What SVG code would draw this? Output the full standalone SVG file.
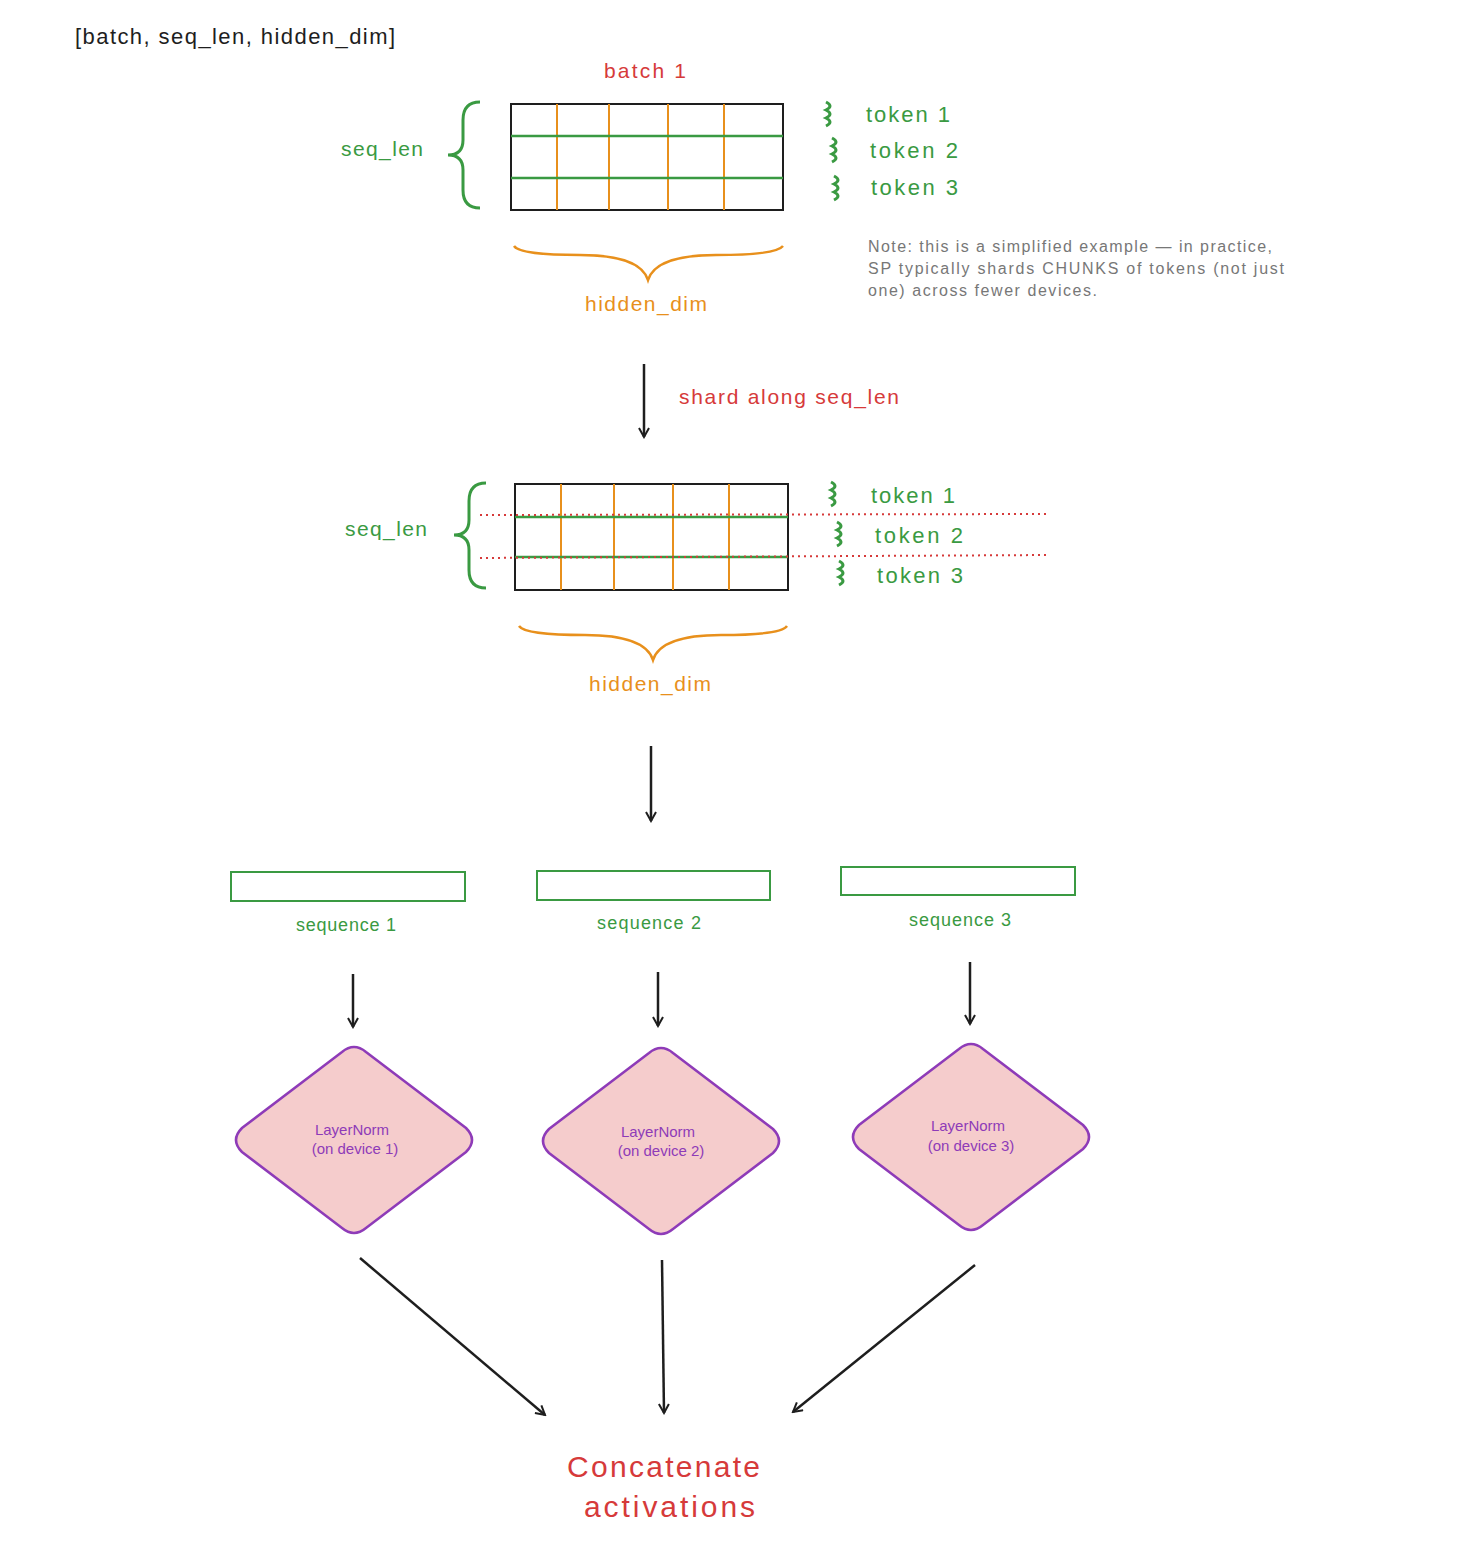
<svg xmlns="http://www.w3.org/2000/svg" width="1462" height="1550" viewBox="0 0 1462 1550">
<style>
text{font-family:"Liberation Sans",sans-serif}
.g{fill:#3a9a42}.o{fill:#e8901c}.r{fill:#d63a3a}.k{fill:#1e1e1e}
.gs{stroke:#3a9a42;fill:none;stroke-width:3}
.os{stroke:#e8901c;fill:none;stroke-width:2.5}
.gl{stroke:#3a9a42;stroke-width:2.5}
.ol{stroke:#e8901c;stroke-width:2}
.ar{stroke:#1e1e1e;stroke-width:2.5;fill:none;marker-end:url(#a)}
.seq{fill:none;stroke:#3a9a42;stroke-width:2}
.dia{fill:#f5cccc;stroke:#8e3bb8;stroke-width:2.5}
.dt{fill:#8e3bb8;font-size:15px;text-anchor:middle}
</style>
<defs><marker id="a" viewBox="0 0 12 12" refX="10" refY="6" markerWidth="12" markerHeight="12" markerUnits="userSpaceOnUse" orient="auto"><path d="M1,1 L10,6 L1,11" fill="none" stroke="#1e1e1e" stroke-width="2"/></marker></defs>
<text x="75" y="44" class="k" font-size="22" textLength="320">[batch, seq_len, hidden_dim]</text>
<g id="grid1">
<text x="604" y="78" class="r" font-size="21" textLength="82">batch 1</text>
<rect x="511" y="104" width="272" height="106" fill="none" stroke="#1e1e1e" stroke-width="2"/>
<line x1="557" y1="104" x2="557" y2="210" class="ol"/><line x1="609" y1="104" x2="609" y2="210" class="ol"/><line x1="668" y1="104" x2="668" y2="210" class="ol"/><line x1="724" y1="104" x2="724" y2="210" class="ol"/>
<line x1="511" y1="136" x2="783" y2="136" class="gl"/><line x1="511" y1="178" x2="783" y2="178" class="gl"/>
<path class="gs" d="M480,102 Q463,102 463,120 L463,140 Q463,155 448,155 Q463,155 463,170 L463,190 Q463,208 480,208"/>
<text x="341" y="156" class="g" font-size="21" textLength="82">seq_len</text>
<path class="gs" d="M826,102 q8,4 0,8 q8,4 0,8 q8,4 0,8" /><path class="gs" d="M832,138 q8,4 0,8 q8,4 0,8 q8,4 0,8"/><path class="gs" d="M834,176 q8,4 0,8 q8,4 0,8 q8,4 0,8"/>
<text x="866" y="122" class="g" font-size="22" textLength="84">token 1</text><text x="870" y="158" class="g" font-size="22" textLength="88">token 2</text><text x="871" y="195" class="g" font-size="22" textLength="87">token 3</text>
<path class="os" d="M514,246 Q520,255 580,255 Q640,255 648,280 Q656,255 716,255 Q776,255 783,246"/>
<text x="585" y="311" class="o" font-size="21" textLength="122">hidden_dim</text>
</g>
<g id="note" fill="#777" font-size="16"><text x="868" y="252" textLength="404">Note: this is a simplified example — in practice,</text><text x="868" y="274" textLength="416">SP typically shards CHUNKS of tokens (not just</text><text x="868" y="296" textLength="229">one) across fewer devices.</text></g>
<text x="679" y="404" class="r" font-size="21" textLength="220">shard along seq_len</text>
<g id="grid2">
<rect x="515" y="484" width="273" height="106" fill="none" stroke="#1e1e1e" stroke-width="2"/>
<line x1="561" y1="484" x2="561" y2="590" class="ol"/><line x1="614" y1="484" x2="614" y2="590" class="ol"/><line x1="673" y1="484" x2="673" y2="590" class="ol"/><line x1="729" y1="484" x2="729" y2="590" class="ol"/>
<line x1="515" y1="517" x2="788" y2="517" class="gl"/><line x1="515" y1="557" x2="788" y2="557" class="gl"/>
<line x1="480" y1="515" x2="1050" y2="514" stroke="#d63a3a" stroke-width="2" stroke-dasharray="2,4"/>
<line x1="480" y1="558" x2="1050" y2="555" stroke="#d63a3a" stroke-width="2" stroke-dasharray="2,4"/>
<path class="gs" d="M486,483 Q469,483 469,501 L469,520 Q469,535 454,535 Q469,535 469,550 L469,570 Q469,588 486,588"/>
<text x="345" y="536" class="g" font-size="21" textLength="82">seq_len</text>
<path class="gs" d="M831,482 q8,4 0,8 q8,4 0,8 q8,4 0,8"/><path class="gs" d="M837,522 q8,4 0,8 q8,4 0,8 q8,4 0,8"/><path class="gs" d="M839,561 q8,4 0,8 q8,4 0,8 q8,4 0,8"/>
<text x="871" y="503" class="g" font-size="22" textLength="84">token 1</text><text x="875" y="543" class="g" font-size="22" textLength="88">token 2</text><text x="877" y="583" class="g" font-size="22" textLength="86">token 3</text>
<path class="os" d="M519,626 Q525,635 585,635 Q645,635 653,660 Q661,635 721,635 Q781,635 787,626"/>
<text x="589" y="691" class="o" font-size="21" textLength="122">hidden_dim</text>
</g>
<g id="seqs">
<rect x="231" y="872" width="234" height="29" class="seq"/><text x="296" y="931" class="g" font-size="18" textLength="100">sequence 1</text>
<rect x="537" y="871" width="233" height="29" class="seq"/><text x="597" y="929" class="g" font-size="18" textLength="104">sequence 2</text>
<rect x="841" y="867" width="234" height="28" class="seq"/><text x="909" y="926" class="g" font-size="18" textLength="102">sequence 3</text>
</g>
<g id="ln1"><path class="dia" d="M342,1052 Q354,1042 366,1052 L466,1128 Q478,1140 466,1152 L366,1228 Q354,1238 342,1228 L242,1152 Q230,1140 242,1128 Z"/><text x="352" y="1135" class="dt">LayerNorm</text><text x="355" y="1154" class="dt">(on device 1)</text></g>
<g id="ln2"><path class="dia" d="M649,1053 Q661,1043 673,1053 L773,1129 Q785,1141 773,1153 L673,1229 Q661,1239 649,1229 L549,1153 Q537,1141 549,1129 Z"/><text x="658" y="1137" class="dt">LayerNorm</text><text x="661" y="1156" class="dt">(on device 2)</text></g>
<g id="ln3"><path class="dia" d="M959,1049 Q971,1039 983,1049 L1083,1125 Q1095,1137 1083,1149 L983,1225 Q971,1235 959,1225 L859,1149 Q847,1137 859,1125 Z"/><text x="968" y="1131" class="dt">LayerNorm</text><text x="971" y="1151" class="dt">(on device 3)</text></g>
<g id="connectors">
<line x1="644" y1="364" x2="644" y2="437" class="ar"/>
<line x1="651" y1="746" x2="651" y2="821" class="ar"/>
<line x1="353" y1="974" x2="353" y2="1027" class="ar"/>
<line x1="658" y1="972" x2="658" y2="1026" class="ar"/>
<line x1="970" y1="962" x2="970" y2="1024" class="ar"/>
<line x1="360" y1="1258" x2="545" y2="1415" class="ar"/>
<line x1="662" y1="1260" x2="664" y2="1413" class="ar"/>
<line x1="975" y1="1265" x2="793" y2="1412" class="ar"/>
</g>
<g id="concat"><text x="567" y="1477" class="r" font-size="30" textLength="193">Concatenate</text><text x="584" y="1517" class="r" font-size="30" textLength="171">activations</text></g>
</svg>
